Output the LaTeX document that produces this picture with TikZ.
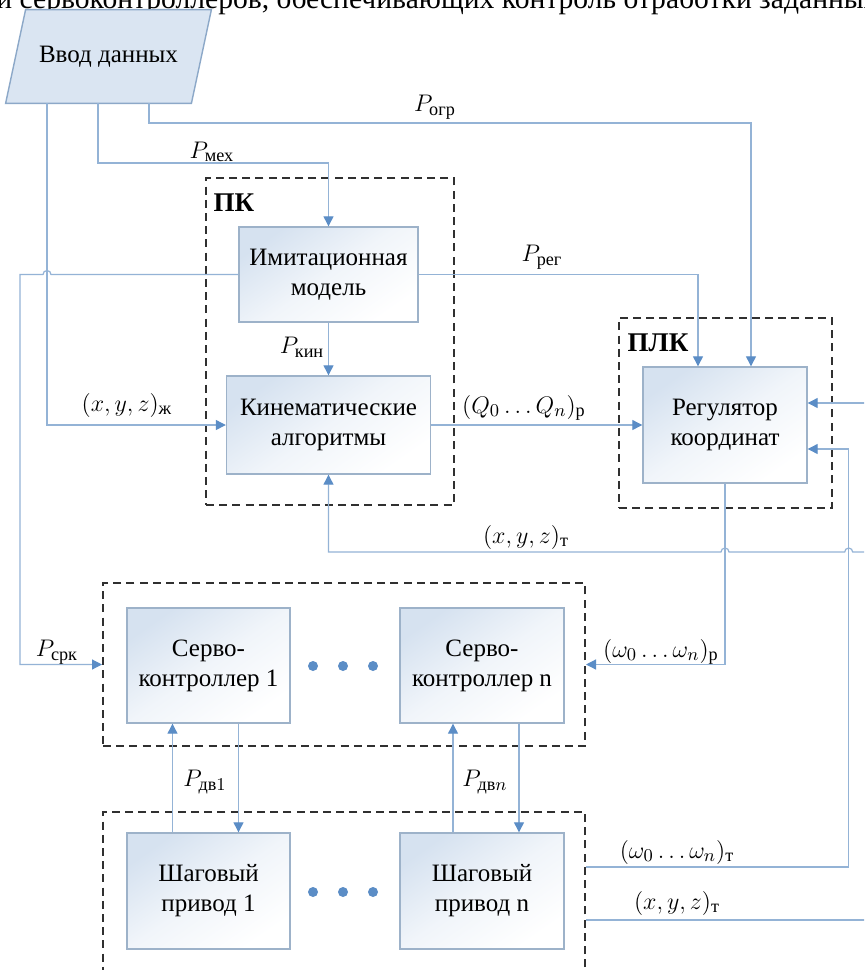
\documentclass[tikz,border=0pt]{standalone}
\usepackage{amsmath}
\usepackage{fontspec}
\setmainfont{Liberation Serif}
\usetikzlibrary{arrows.meta,calc}

\definecolor{linec}{HTML}{94B3D6}
\definecolor{tipc}{HTML}{5B8DC6}
\definecolor{boxc}{HTML}{9DB2C9}
\definecolor{boxtop}{HTML}{D6E2F0}
\definecolor{datac}{HTML}{DAE5F2}
\definecolor{datab}{HTML}{8CA8C8}
\definecolor{grpc}{HTML}{303030}

\tikzset{
  block/.style={draw=boxc, line width=0.7pt, top color=boxtop, bottom color=white,
    middle color=boxtop!35, shading angle=35,
    align=center, inner sep=0pt, font=\fontsize{12.5}{15}\selectfont},
  datatext/.style={minimum width=92.5pt, minimum height=46.5pt, inner sep=0pt,
    font=\fontsize{12.5}{15}\selectfont},
  databox/.style={draw=datab, fill=datac, line width=0.7pt},
  group/.style={draw=grpc, line width=1pt, dash pattern=on 4pt off 2.6pt, inner sep=0pt},
  grplbl/.style={font=\bfseries\fontsize{13.5}{15}\selectfont},
  link/.style={draw=linec, line width=0.6pt},
  tolink/.style={link, -{Triangle[length=5pt,width=5pt,color=tipc]}},
  lbl/.style={font=\fontsize{13}{15}\selectfont, inner sep=0pt},
}

\begin{document}
\begin{tikzpicture}[x=0.5pt,y=-0.5pt]
    \useasboundingbox (0,0) rectangle (864,970);
    \fill[white] (0,0) rectangle (864,970);
    \clip (0,0) rectangle (864,970);
    \node[anchor=base west, inner sep=0pt, font=\fontsize{14.8}{16}\selectfont] (topline) at (-4,8)
        {и сервоконтроллеров, обеспечивающих контроль отработки заданных};
    %% blocks
    \node[datatext] (data) at (108.5,56.5) {};
    \draw[databox] ($(data.south west)+(-10,0)$) -- ($(data.north west)+(10,0)$)
        -- ($(data.north east)+(10,0)$) -- ($(data.south east)+(-10,0)$) -- cycle;
    \node[datatext] at (data) {Ввод данных};
    \node[block, minimum width=89.5pt, minimum height=47.5pt] (model) at (328.5,274.5)
        {Имитационная\\модель};
    \node[block, minimum width=102pt, minimum height=49pt] (kin) at (328.5,425)
        {Кинематические\\алгоритмы};
    \node[block, minimum width=82pt, minimum height=58pt] (reg) at (725,425)
        {Регулятор\\координат};
    \node[block, minimum width=81.5pt, minimum height=57.5pt] (servo1) at (208.5,665.5)
        {Серво-\\контроллер 1};
    \node[block, minimum width=82pt, minimum height=57.5pt] (servon) at (482,665.5)
        {Серво-\\контроллер n};
    \node[block, minimum width=81.5pt, minimum height=58pt] (step1) at (208.5,891)
        {Шаговый\\привод 1};
    \node[block, minimum width=82pt, minimum height=58pt] (stepn) at (482,891)
        {Шаговый\\привод n};
    \foreach \y in {666,892}
        \foreach \x in {313,343,373}
            \fill[tipc] (\x,\y) circle (2.5pt);
    %% dashed groups
    \node[group, minimum width=124pt, minimum height=163.5pt] (pk) at (330,341.5) {};
    \node[group, minimum width=106.5pt, minimum height=95pt] (plk) at (725.5,413) {};
    \node[group, minimum width=241pt, minimum height=81.5pt] (servos) at (344,664.5) {};
    \node[group, minimum width=241pt, minimum height=94pt] (steps) at (344,906) {};
    \node[grplbl] at (234,203) {ПК};
    \node[grplbl] at (658,343) {ПЛК};
    %% free ends at the right edge
    \coordinate (xin) at (870,403);
    \coordinate (fb) at (870,552);
    \coordinate (xout) at (870,920);
    \coordinate (wt) at ($(reg.east)+(41,24)$);
    %% connectors
    \draw[tolink] (98,0 |- data.south) -- (98,163) -| (model.north);
    \draw[tolink] (149,0 |- data.south) -- (149,123) -| ($(reg.north)+(26,0)$);
    \draw[tolink] (47,0 |- data.south) |- (kin.west);
    \draw[tolink] (model.west) -- (51,0 |- model.west)
        arc[start angle=0, end angle=180, radius=2pt]
        -- (20,0 |- model.west) |- (servos.west);
    \draw[tolink] (model.east) -| ($(reg.north)+(-27,0)$);
    \draw[tolink] (model.south) -- (kin.north);
    \draw[tolink] (kin.east) -- (reg.west);
    \draw[tolink] (fb) -- ($(wt |- fb)+(4,0)$)
        arc[start angle=0, end angle=180, radius=2pt]
        -- ($(reg.south |- fb)+(4,0)$)
        arc[start angle=0, end angle=180, radius=2pt] -| (kin.south);
    \draw[tolink] (reg.south) |- (servos.east);
    \draw[tolink] (xin) -- (reg.east |- xin);
    \draw[tolink] (steps.east |- 0,867) -| (wt) -- (reg.east |- wt);
    \draw[link] (steps.east |- xout) -- (xout);
    \draw[tolink] ($(step1.north)+(-36,0)$) -- ($(servo1.south)+(-36,0)$);
    \draw[tolink] ($(servo1.south)+(30,0)$) -- ($(step1.north)+(30,0)$);
    \draw[tolink] ($(stepn.north)+(-29,0)$) -- ($(servon.south)+(-29,0)$);
    \draw[tolink] ($(servon.south)+(37,0)$) -- ($(stepn.north)+(37,0)$);
    %% labels
    \node[lbl] at (435,107) {$P_{\text{огр}}$};
    \node[lbl] at (212,152) {$P_{\text{мех}}$};
    \node[lbl] at (542,257) {$P_{\text{рег}}$};
    \node[lbl] at (302,347) {$P_{\text{кин}}$};
    \node[lbl] at (127,405) {$(x,y,z)_{\text{ж}}$};
    \node[lbl] at (524,408) {$(Q_0\ldots Q_n)_{\text{р}}$};
    \node[lbl] at (526,537) {$(x,y,z)_{\text{т}}$};
    \node[lbl] at (57,652) {$P_{\text{срк}}$};
    \node[lbl] at (661,652) {$(\omega_0\ldots\omega_n)_{\text{р}}$};
    \node[lbl] at (205,782) {$P_{\text{дв}1}$};
    \node[lbl] at (485,782) {$P_{\text{дв}n}$};
    \node[lbl] at (677,852) {$(\omega_0\ldots\omega_n)_{\text{т}}$};
    \node[lbl] at (677,903) {$(x,y,z)_{\text{т}}$};
\end{tikzpicture}
\end{document}
